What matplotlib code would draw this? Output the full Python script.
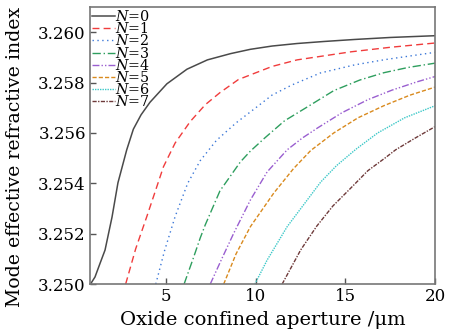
import matplotlib
matplotlib.use("Agg")
import matplotlib.pyplot as plt

plt.rcParams['font.family'] = ['DejaVu Serif']
plt.rcParams['mathtext.fontset'] = 'custom'
plt.rcParams['mathtext.it'] = 'DejaVu Serif:italic'
plt.rcParams['mathtext.rm'] = 'DejaVu Serif'

# curves, one pair of lists per mode order N
x0 = [0.78, 1.03, 1.3, 1.59, 1.98, 2.31, 2.8, 3.17, 3.6, 4.1, 5.04, 6.16, 7.3, 8.6, 9.7, 10.91, 12.3, 13.79, 15.5, 17.5, 20.0]
y0 = [3.2500, 3.25028, 3.2508, 3.25135, 3.25266, 3.25402, 3.25533, 3.25615, 3.25672, 3.25722, 3.25795, 3.25853, 3.2589, 3.25915, 3.25932, 3.25945, 3.25955, 3.25963, 3.25971, 3.25979, 3.25986]

x1 = [2.74, 3.3, 3.92, 4.4, 4.85, 5.5, 6.34, 7.18, 8.0, 9.03, 10.91, 12.3, 13.8, 15.3, 17.5, 20.0]
y1 = [3.2500, 3.2514, 3.25268, 3.2537, 3.25466, 3.2556, 3.25645, 3.25712, 3.2576, 3.25812, 3.25864, 3.2589, 3.25906, 3.25922, 3.2594, 3.25957]

x2 = [4.42, 4.9, 5.5, 6.2, 6.9, 7.8, 8.9, 10.0, 10.9, 12.0, 13.6, 15.5, 17.2, 20.0]
y2 = [3.2500, 3.2513, 3.25268, 3.2540, 3.2549, 3.2557, 3.2564, 3.2570, 3.2575, 3.2579, 3.25838, 3.2587, 3.25891, 3.2592]

x3 = [6.0, 6.5, 6.9, 7.18, 8.0, 9.14, 9.7, 10.5, 11.6, 12.8, 14.35, 15.8, 17.14, 18.5, 20.0]
y3 = [3.2500, 3.2510, 3.25183, 3.25235, 3.2537, 3.25485, 3.25528, 3.2558, 3.25648, 3.2570, 3.25768, 3.2581, 3.25839, 3.2586, 3.25877]

x4 = [7.46, 8.1, 8.77, 9.7, 10.63, 11.75, 12.6, 13.45, 14.8, 16.25, 17.6, 19.0, 20.0]
y4 = [3.2500, 3.2510, 3.25202, 3.25334, 3.25445, 3.25533, 3.2558, 3.2562, 3.2568, 3.25732, 3.2577, 3.25803, 3.25824]

x5 = [8.21, 8.9, 9.7, 11.0, 12.1, 13.06, 14.35, 15.7, 17.14, 18.6, 20.0]
y5 = [3.2500, 3.2512, 3.25228, 3.25361, 3.25458, 3.2553, 3.2560, 3.2566, 3.25708, 3.2575, 3.25782]

x6 = [9.95, 10.63, 11.75, 12.87, 13.62, 14.5, 15.58, 16.8, 18.3, 20.0]
y6 = [3.2500, 3.25095, 3.25228, 3.25334, 3.25405, 3.2547, 3.25535, 3.2560, 3.2566, 3.25708]

x7 = [11.47, 12.5, 13.4, 14.3, 15.2, 16.25, 17.2, 17.8, 18.9, 20.0]
y7 = [3.2500, 3.25135, 3.2523, 3.2531, 3.25374, 3.2545, 3.2550, 3.25533, 3.2558, 3.25625]

labels = ['$N$=0', '$N$=1', '$N$=2', '$N$=3', '$N$=4', '$N$=5', '$N$=6', '$N$=7']
xticks = [5, 10, 15, 20]
yticks = [3.250, 3.252, 3.254, 3.256, 3.258, 3.260]

colors = ['#4a4a4a', '#f03c3c', '#3c78d8', '#2e9e5e', '#9a5fd0', '#d98a1e', '#3cc8c8', '#6e3a3a']
styles = ['-', (0, (5, 3)), (0, (1, 2.5)), (0, (6, 2, 1, 2)), (0, (5, 1.5, 1, 1.5, 1, 1.5)),
          (0, (3, 1.5)), (0, (1, 0.8)), (0, (3, 1, 1, 1))]

fig = plt.figure(figsize=(4.49, 3.33), dpi=100)
ax = fig.add_axes([0.2004, 0.147, 0.7686, 0.832])

xs = [x0, x1, x2, x3, x4, x5, x6, x7]
ys = [y0, y1, y2, y3, y4, y5, y6, y7]
for x, y, c, ls, lab in zip(xs, ys, colors, styles, labels):
    ax.plot(x, y, color=c, linestyle=ls, linewidth=1.1 if ls == '-' else 1.0, label=lab)

ax.set_xlim(0.75, 20)
ax.set_ylim(3.250, 3.261)
ax.set_xticks(xticks)
ax.set_yticks(yticks)
ax.set_yticklabels(['%.3f' % v for v in yticks])
ax.tick_params(direction='in', length=4, width=1, labelsize=12, color='#555555', pad=3)
for s in ax.spines.values():
    s.set_color('#777777')
    s.set_linewidth(1.2)

ax.set_xlabel('Oxide confined aperture /\u03bcm', fontsize=14, labelpad=4)
ax.set_ylabel('Mode effective refractive index', fontsize=13.6)
ax.yaxis.set_label_coords(-0.19, 0.46)

leg = ax.legend(loc='upper left', frameon=False, fontsize=10.3, handlelength=1.6,
                handletextpad=0.0, labelspacing=-0.2, borderaxespad=0.15, borderpad=0.0)

fig.savefig('out.png', dpi=100)
